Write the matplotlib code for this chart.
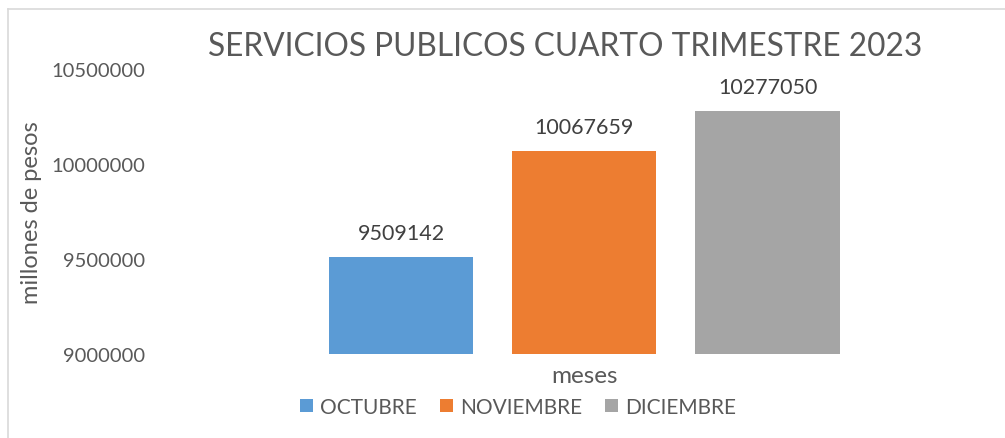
import matplotlib
matplotlib.use("Agg")
import matplotlib.pyplot as plt
from matplotlib.lines import Line2D
from matplotlib.patches import Patch

months = ["OCTUBRE", "NOVIEMBRE", "DICIEMBRE"]
values = [9509142, 10067659, 10277050]
colors = ["#5B9BD5", "#ED7D31", "#A5A5A5"]
yticks = [9000000, 9500000, 10000000, 10500000]
title = "SERVICIOS PUBLICOS CUARTO TRIMESTRE 2023"
ylabel = "millones de pesos"
xlabel = "meses"

plt.rcParams['font.family'] = ['Lato', 'DejaVu Sans']
TXT = "#595959"

W, H = 1005, 439
fig = plt.figure(figsize=(W / 100, H / 100), dpi=100)

left_px, right_px, top_px, bot_px = 165, 1004, 70, 355
ax = fig.add_axes([left_px / W, (H - bot_px) / H, (right_px - left_px) / W, (bot_px - top_px) / H])

xs = list(range(len(months)))
bars = ax.bar(xs, values, width=0.787, color=colors, bottom=0)
ax.set_ylim(yticks[0], yticks[-1])
ax.set_xlim(-1.288, 3.29)
ax.set_yticks(yticks)
ax.set_yticklabels([str(v) for v in yticks], fontsize=14.5, color=TXT)
ax.tick_params(axis='y', length=0, pad=14)
ax.set_xticks([])
for s in ax.spines.values():
    s.set_visible(False)

for x, v in zip(xs, values):
    ax.annotate(str(v), (x, v), xytext=(0, 10), textcoords='offset points',
                ha='center', va='bottom', fontsize=15.5, color="#404040")

fig.text(565 / W, 1 - 47 / H, title, ha='center', va='center', fontsize=22.8, color=TXT)
fig.text(31 / W, 1 - 213 / H, ylabel, rotation=90, ha='center', va='center', fontsize=17, color=TXT)
fig.text(584 / W, 1 - 377 / H, xlabel, ha='center', va='center', fontsize=17.5, color=TXT)

handles = [Patch(facecolor=c, edgecolor='none') for c in colors]
fig.legend(handles, months, loc='center', bbox_to_anchor=(518 / W, 1 - 408 / H), ncol=3,
           frameon=False, fontsize=15, labelcolor=TXT, handlelength=0.62, handleheight=0.62,
           handletextpad=0.35, columnspacing=1.1)

fig.add_artist(Line2D([8 / W, 1], [1 - 10 / H, 1 - 10 / H], color="#D9D9D9", lw=1.2))
fig.add_artist(Line2D([8 / W, 8 / W], [0, 1 - 10 / H], color="#D9D9D9", lw=1.2))

fig.savefig("out.png", dpi=100)
